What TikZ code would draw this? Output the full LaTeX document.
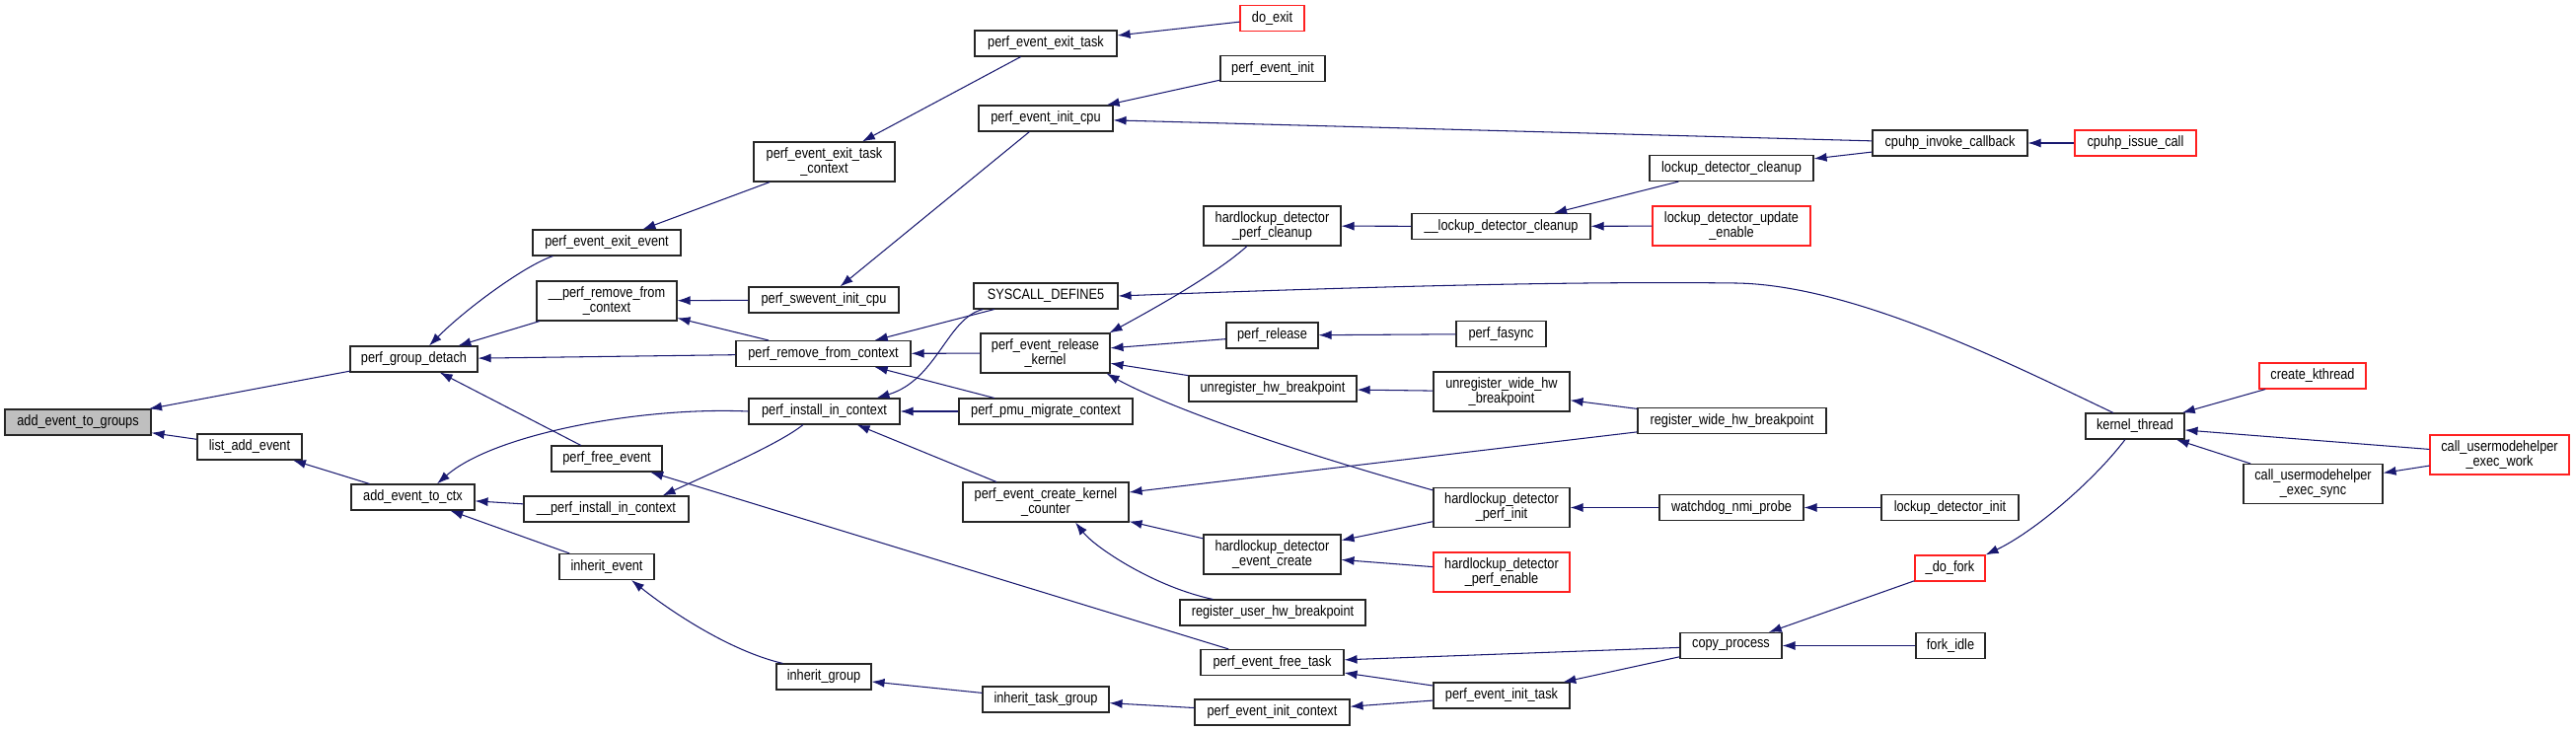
\documentclass[tikz,border=0pt]{standalone}
\usepackage{fontspec}
\setmainfont{Liberation Sans}[FakeStretch=0.85]
\usetikzlibrary{arrows.meta}
\definecolor{edgeblue}{HTML}{191970}
\definecolor{nodegray}{HTML}{BFBFBF}
\definecolor{nodered}{HTML}{FF2020}
\begin{document}
\begin{tikzpicture}[x=1pt,y=-1pt,
  fn/.style={draw=black!85, line width=1.1pt, fill=white, inner sep=0pt, align=center,
    font=\fontsize{15}{15}\selectfont, text=black, minimum height=26pt},
  two/.style={minimum height=40pt},
  redfn/.style={draw=nodered},
  grayfn/.style={fill=nodegray},
  cl/.style={draw=edgeblue, line width=1.05pt, {Latex[length=13pt,width=9pt]}-}
]
\fill[white] (0,0) rectangle (2611,741);
\useasboundingbox (0,0) rectangle (2611,741);

% nodes
\node[fn,grayfn,minimum width=148pt] (aetg) at (79,428) {add\_event\_to\_groups};
\node[fn,minimum width=106pt] (lae) at (253,453) {list\_add\_event};
\node[fn,minimum width=129pt] (pgd) at (419.5,364) {perf\_group\_detach};
\node[fn,minimum width=125pt] (aetc) at (418.5,504) {add\_event\_to\_ctx};
\node[fn,minimum width=150pt] (peee) at (615,246) {perf\_event\_exit\_event};
\node[fn,two,minimum width=142pt] (uprfc) at (615,305) {\_\_perf\_remove\_from\\\_context};
\node[fn,minimum width=112pt] (pfe) at (615,465) {perf\_free\_event};
\node[fn,minimum width=167pt] (upic) at (614.5,516) {\_\_perf\_install\_in\_context};
\node[fn,minimum width=96pt] (ie) at (615,574.5) {inherit\_event};
\node[fn,two,minimum width=143pt] (peetc) at (835.5,164) {perf\_event\_exit\_task\\\_context};
\node[fn,minimum width=152pt] (psic) at (835,304) {perf\_swevent\_init\_cpu};
\node[fn,minimum width=177pt] (prfc) at (834.5,358.5) {perf\_remove\_from\_context};
\node[fn,minimum width=153pt] (pic) at (835.5,417) {perf\_install\_in\_context};
\node[fn,minimum width=96pt] (ig) at (835,686) {inherit\_group};
\node[fn,minimum width=144pt] (peet) at (1060,44) {perf\_event\_exit\_task};
\node[fn,minimum width=136pt] (peic) at (1060,120) {perf\_event\_init\_cpu};
\node[fn,minimum width=146pt] (sd5) at (1060,300) {SYSCALL\_DEFINE5};
\node[fn,two,minimum width=131pt] (perk) at (1059.5,358) {perf\_event\_release\\\_kernel};
\node[fn,minimum width=176pt] (ppmc) at (1060,417) {perf\_pmu\_migrate\_context};
\node[fn,two,minimum width=168pt] (peckc) at (1060,509) {perf\_event\_create\_kernel\\\_counter};
\node[fn,minimum width=128pt] (itg) at (1060,709) {inherit\_task\_group};
\node[fn,redfn,minimum width=65pt] (doexit) at (1289.5,18.5) {do\_exit};
\node[fn,minimum width=106pt] (pei) at (1290,69.5) {perf\_event\_init};
\node[fn,two,minimum width=139pt] (hdpc) at (1289.5,229) {hardlockup\_detector\\\_perf\_cleanup};
\node[fn,minimum width=93pt] (prel) at (1289.5,340) {perf\_release};
\node[fn,minimum width=170pt] (uhb) at (1290,394) {unregister\_hw\_breakpoint};
\node[fn,two,minimum width=139pt] (hdec) at (1289.5,562) {hardlockup\_detector\\\_event\_create};
\node[fn,minimum width=188pt] (ruhb) at (1290,621) {register\_user\_hw\_breakpoint};
\node[fn,minimum width=145pt] (peft) at (1289.5,671.5) {perf\_event\_free\_task};
\node[fn,minimum width=157pt] (peictx) at (1289.5,722) {perf\_event\_init\_context};
\node[fn,minimum width=181pt] (ldcu) at (1521.5,229.5) {\_\_lockup\_detector\_cleanup};
\node[fn,minimum width=91pt] (pfas) at (1521.5,338.5) {perf\_fasync};
\node[fn,two,minimum width=138pt] (uwhb) at (1522,397) {unregister\_wide\_hw\\\_breakpoint};
\node[fn,two,minimum width=138pt] (hdpi) at (1522,514.5) {hardlockup\_detector\\\_perf\_init};
\node[fn,two,redfn,minimum width=138pt] (hdpe) at (1522,580) {hardlockup\_detector\\\_perf\_enable};
\node[fn,minimum width=138pt] (peit) at (1522,705) {perf\_event\_init\_task};
\node[fn,minimum width=166pt] (ldcl) at (1755,170.5) {lockup\_detector\_cleanup};
\node[fn,two,redfn,minimum width=160pt] (ldue) at (1755,229) {lockup\_detector\_update\\\_enable};
\node[fn,minimum width=191pt] (rwhb) at (1755.5,426.5) {register\_wide\_hw\_breakpoint};
\node[fn,minimum width=146pt] (wnp) at (1755,514.5) {watchdog\_nmi\_probe};
\node[fn,minimum width=103pt] (cp) at (1754.5,654.5) {copy\_process};
\node[fn,minimum width=157pt] (cic) at (1976.5,145) {cpuhp\_invoke\_callback};
\node[fn,minimum width=139pt] (ldi) at (1976.5,514.5) {lockup\_detector\_init};
\node[fn,redfn,minimum width=71pt] (dofork) at (1976.5,576) {\_do\_fork};
\node[fn,minimum width=70pt] (forkidle) at (1977,654.5) {fork\_idle};
\node[fn,redfn,minimum width=123pt] (cic2) at (2164.5,145) {cpuhp\_issue\_call};
\node[fn,minimum width=100pt] (kt) at (2164,432) {kernel\_thread};
\node[fn,redfn,minimum width=108pt] (ck) at (2344,381) {create\_kthread};
\node[fn,two,minimum width=141pt] (cues) at (2344.5,490.5) {call\_usermodehelper\\\_exec\_sync};
\node[fn,two,redfn,minimum width=141pt] (cuew) at (2533.5,461) {call\_usermodehelper\\\_exec\_work};

% edges (arrow at callee)
\draw[cl] (aetg) -- (pgd);
\draw[cl] (aetg) -- (lae);
\draw[cl] ([xshift=15.5pt]pgd.north) .. controls (470,315) and (530,270) .. ([xshift=21pt]peee.south west);
\draw[cl] (pgd) -- (uprfc);
\draw[cl] (pgd) -- (prfc);
\draw[cl] (pgd) -- (pfe);
\draw[cl] (lae) -- (aetc);
\draw[cl] ([xshift=24.5pt]aetc.north) .. controls (500,440) and (650,412) .. (pic.west);
\draw[cl] (aetc) -- (upic);
\draw[cl] (aetc) -- (ie);
\draw[cl] (peee) -- (peetc);
\draw[cl] (peetc) -- (peet);
\draw[cl] (peet) -- (doexit);
\draw[cl] (uprfc) -- (psic);
\draw[cl] (uprfc) -- (prfc);
\draw[cl] (psic) -- (peic);
\draw[cl] (peic) -- (pei);
\draw[cl] (peic) -- (cic);
\draw[cl] (cic) -- (cic2);
\draw[cl] (prfc) -- (sd5);
\draw[cl] (prfc) -- (perk);
\draw[cl] (prfc) -- (ppmc);
\draw[cl] ([xshift=-24pt]pic.north east) .. controls (950,385) and (960,322) .. ([xshift=10pt]sd5.south west);
\draw[cl] (pic) -- (ppmc);
\draw[cl] (pic) -- (peckc);
\draw[cl] ([xshift=-27pt]upic.north east) .. controls (720,480) and (790,450) .. ([xshift=-21.5pt]pic.south);
\draw[cl] (sd5.east) .. controls (1400,290) and (1600,285) .. (1760,287) .. controls (1880,289) and (2040,370) .. ([xshift=-22pt]kt.north);
\draw[cl] ([xshift=-1pt]perk.north east) .. controls (1160,318) and (1230,280) .. ([xshift=44.5pt]hdpc.south west);
\draw[cl] (perk) -- (prel);
\draw[cl] (perk) -- (uhb);
\draw[cl] ([xshift=-4pt]perk.south east) .. controls (1160,400) and (1250,440) .. ([yshift=-3pt]hdpi.north west);
\draw[cl] (prel) -- (pfas);
\draw[cl] (hdpc) -- (ldcu);
\draw[cl] (ldcu) -- (ldcl);
\draw[cl] (ldcu) -- (ldue);
\draw[cl] (ldcl) -- (cic);
\draw[cl] (uhb) -- (uwhb);
\draw[cl] (uwhb) -- (rwhb);
\draw[cl] (peckc) -- (rwhb);
\draw[cl] (peckc) -- (hdec);
\draw[cl] ([xshift=30pt]peckc.south) .. controls (1110,555) and (1170,595) .. ([xshift=34pt]ruhb.north west);
\draw[cl] (hdec) -- (hdpi);
\draw[cl] (hdec) -- (hdpe);
\draw[cl] (hdpi) -- (wnp);
\draw[cl] (wnp) -- (ldi);
\draw[cl] (pfe) -- (peft);
\draw[cl] (peft) -- (cp);
\draw[cl] (peft) -- (peit);
\draw[cl] (peictx) -- (peit);
\draw[cl] (itg) -- (peictx);
\draw[cl] (ig) -- (itg);
\draw[cl] ([xshift=25pt]ie.south) .. controls (680,620) and (740,660) .. ([xshift=7pt]ig.north west);
\draw[cl] (peit) -- (cp);
\draw[cl] (cp) -- (dofork);
\draw[cl] (cp) -- (forkidle);
\draw[cl] (dofork.north east) .. controls (2060,540) and (2120,490) .. ([xshift=-10pt]kt.south);
\draw[cl] (kt) -- (ck);
\draw[cl] (kt) -- (cuew);
\draw[cl] (kt) -- (cues);
\draw[cl] (cues) -- (cuew);
\end{tikzpicture}
\end{document}
